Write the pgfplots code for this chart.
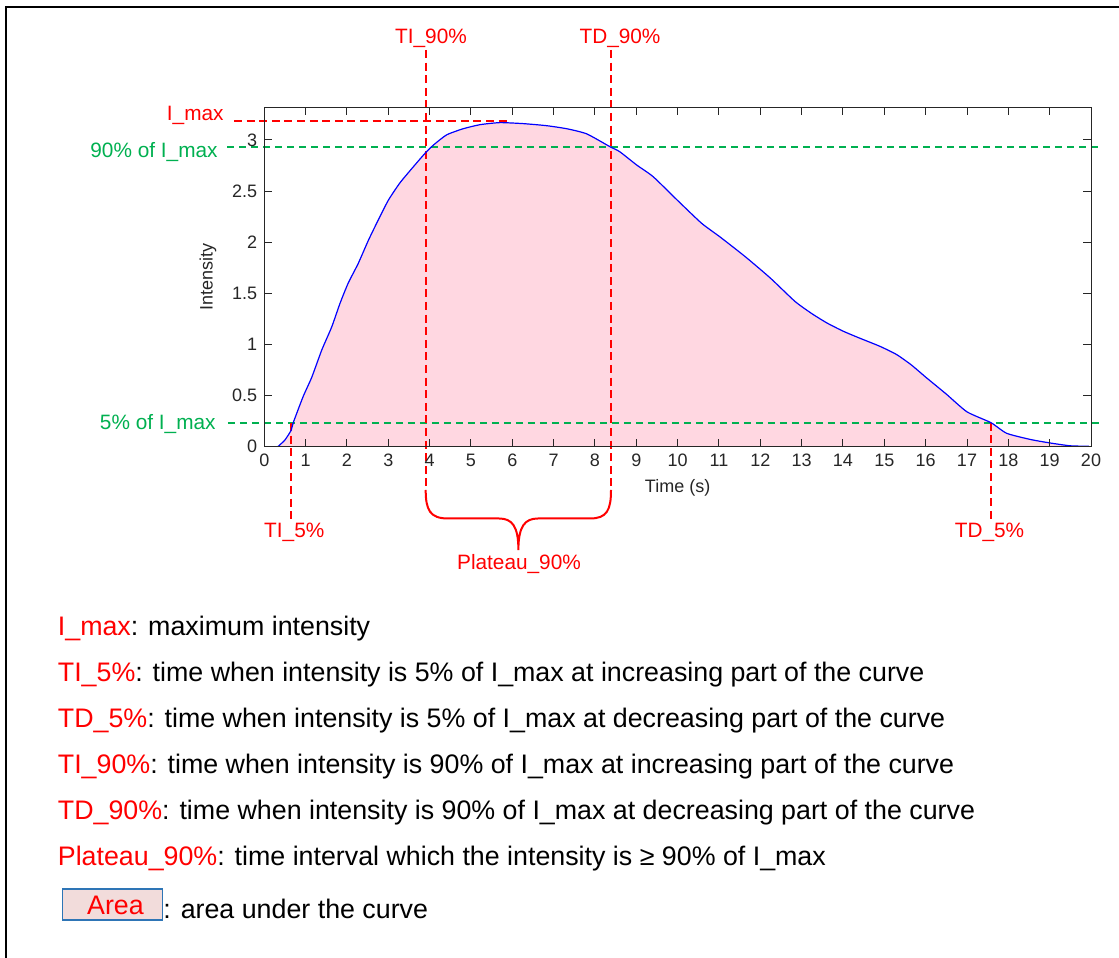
\documentclass[border=0pt]{standalone}
\usepackage{pgfplots}
\pgfplotsset{compat=1.18}
\usepackage{fontspec}
\setmainfont{Liberation Sans}
\definecolor{pinkfill}{RGB}{255,215,225}
\definecolor{dgreen}{RGB}{0,176,80}
\definecolor{boxblue}{RGB}{46,117,182}
\definecolor{boxfill}{RGB}{242,220,219}
\pgfplotstableread{
t I
0.33 0
0.50 0.065
0.65 0.16
0.70 0.234
0.94 0.49
1.15 0.68
1.39 0.945
1.63 1.17
1.83 1.40
2.03 1.60
2.27 1.79
2.52 2.02
2.76 2.22
3.00 2.41
3.28 2.58
3.61 2.74
3.90 2.875
4.09 2.95
4.41 3.05
4.81 3.11
5.22 3.15
5.70 3.17
6.27 3.16
6.83 3.14
7.32 3.11
7.80 3.06
8.36 2.935
8.60 2.885
9.01 2.755
9.41 2.64
10.02 2.40
10.58 2.185
11.03 2.05
11.63 1.86
12.24 1.65
12.84 1.42
13.25 1.30
13.61 1.21
14.00 1.13
14.41 1.06
14.90 0.98
15.30 0.90
15.65 0.80
16.00 0.68
16.27 0.59
16.51 0.51
17.00 0.34
17.58 0.234
17.96 0.13
18.53 0.07
18.97 0.038
19.49 0.008
19.95 0.003
}\curve
\begin{document}
\begin{tikzpicture}
\useasboundingbox (0,0) rectangle (559.5pt,479pt);
\begin{axis}[
 at={(132.15pt,255.7pt)}, anchor=south west,
 scale only axis, width=413.35pt, height=169.65pt,
 xmin=0, xmax=20, ymin=0, ymax=3.32,
 xtick={0,1,...,20}, ytick={0,0.5,1,1.5,2,2.5,3},
 tick align=inside, major tick length=3.8pt,
 axis line style={black!85, line width=0.5pt},
 every tick/.style={black!85, line width=0.5pt},
 tick label style={font=\fontsize{9}{10}\selectfont, black!85},
 /pgf/number format/assume math mode=true,
 xlabel={Time (s)}, ylabel={Intensity},
 label style={font=\fontsize{9}{10}\selectfont, black!85},
 xlabel style={at={(axis description cs:0.5,-0.121)}, anchor=center},
 ylabel style={at={(axis description cs:-0.068,0.5)}, anchor=center},
 clip=false, axis on top,
 reddash/.style={red, line width=1pt, dash pattern=on 4pt off 2.3pt},
 greendash/.style={dgreen, line width=1pt, dash pattern=on 3.6pt off 2.4pt},
]
\addplot[fill=pinkfill, draw=none, smooth, tension=0.35] table[x=t, y=I] {\curve} \closedcycle;
\addplot[greendash] coordinates {(-0.90,2.935) (20.29,2.935)};
\addplot[greendash] coordinates {(-0.88,0.234) (20.29,0.234)};
\addplot[reddash] coordinates {(-0.733,3.19) (5.9,3.19)};
\addplot[reddash] coordinates {(3.905,3.881) (3.905,-0.425)};
\addplot[reddash] coordinates {(8.389,3.881) (8.389,-0.425)};
\addplot[reddash] coordinates {(0.646,0.231) (0.646,-0.738)};
\addplot[reddash] coordinates {(17.583,0.234) (17.583,-0.738)};
\addplot[blue, line width=0.6pt, smooth, tension=0.35] table[x=t, y=I] {\curve};
\end{axis}
\begin{scope}[x=0.5pt, y=-0.5pt, shift={(0pt,479pt)}]
% outer frame
\draw[black, line width=1pt] (5.7,958) -- (5.7,6.7) -- (1119,6.7);
% brace
\draw[red, line width=1pt] (425.7,490) .. controls (425.7,510) and (430,518.5) .. (448,518.5)
 -- (499,518.5) .. controls (512,518.5) and (518.4,526) .. (518.4,550)
 .. controls (518.4,526) and (525,518.5) .. (538,518.5)
 -- (590,518.5) .. controls (607,518.5) and (611,510) .. (611,490);
% annotation labels
\begin{scope}[every node/.style={font=\fontsize{10.4}{12}\selectfont, inner sep=0pt}]
\node[red, anchor=base] at (431,43.5) {TI\_90\%};
\node[red, anchor=base] at (620,43.5) {TD\_90\%};
\node[red, anchor=base east] at (224,121) {I\_max};
\node[dgreen, anchor=base east] at (218,158) {90\% of I\_max};
\node[dgreen, anchor=base east] at (216,429.5) {5\% of I\_max};
\node[red, anchor=base] at (294.3,537.3) {TI\_5\%};
\node[red, anchor=base] at (989.5,537.3) {TD\_5\%};
\node[red, anchor=base] at (519,570) {Plateau\_90\%};
\end{scope}
% description lines
\begin{scope}[every node/.style={font=\fontsize{13.4}{16}\selectfont, inner sep=0pt, anchor=base west}]
\node at (57.5,636) {\textcolor{red}{I\_max}: maximum intensity};
\node at (57.5,682) {\textcolor{red}{TI\_5\%}: time when intensity is 5\% of I\_max at increasing part of the curve};
\node at (57.5,728) {\textcolor{red}{TD\_5\%}: time when intensity is 5\% of I\_max at decreasing part of the curve};
\node at (57.5,774) {\textcolor{red}{TI\_90\%}: time when intensity is 90\% of I\_max at increasing part of the curve};
\node at (57.5,820) {\textcolor{red}{TD\_90\%}: time when intensity is 90\% of I\_max at decreasing part of the curve};
\node at (57.5,866) {\textcolor{red}{Plateau\_90\%}: time interval which the intensity is ≥ 90\% of I\_max};
\draw[boxblue, fill=boxfill, line width=0.6pt] (62.3,889) rectangle (162.3,920);
\node[anchor=base, red] at (115.5,915) {Area};
\node at (163,919) {: area under the curve};
\end{scope}
\end{scope}
\end{tikzpicture}
\end{document}
